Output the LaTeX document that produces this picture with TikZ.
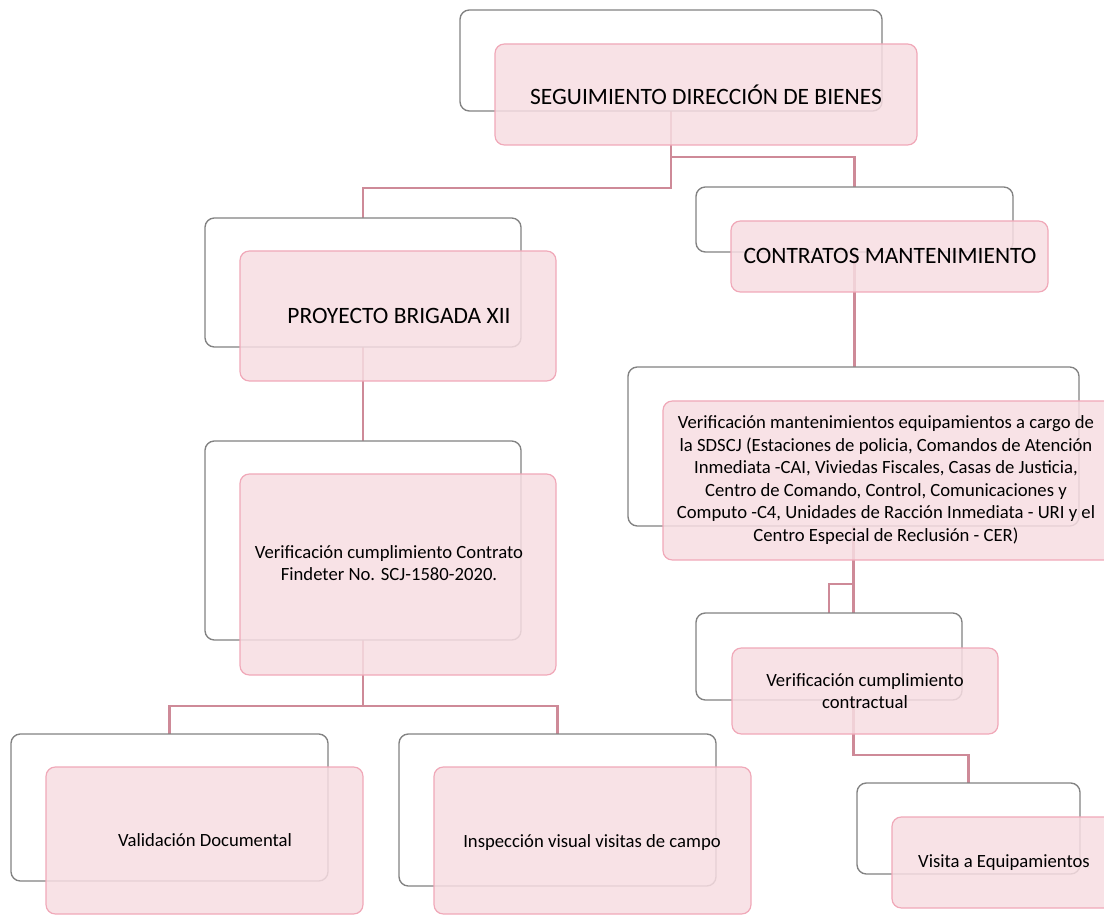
\documentclass[tikz,border=0pt]{standalone}
\usepackage{fontspec}
\setmainfont{Carlito}
\usetikzlibrary{fit}
\definecolor{pinkfill}{RGB}{247,221,226}
\definecolor{pinkline}{RGB}{240,168,184}
\definecolor{connc}{RGB}{206,138,152}
\definecolor{grayline}{RGB}{130,130,130}
\tikzset{
  backbox/.style={draw=grayline, line width=1pt, fill=white, rounded corners=7pt, inner sep=0pt},
  frontbox/.style={draw=pinkline, line width=0.9pt, fill=pinkfill, fill opacity=0.85, rounded corners=7pt, inner sep=0pt},
  conn/.style={draw=connc, line width=2.2pt},
  bigtxt/.style={font=\fontsize{17.6}{21}\selectfont, align=center, inner sep=0pt},
  smalltxt/.style={font=\fontsize{14}{16.9}\selectfont, align=center, inner sep=0pt}
}
\begin{document}
\begin{tikzpicture}[x=0.75pt,y=-0.75pt]
\useasboundingbox (0,0) rectangle (1104,916);
\begin{scope}
\clip (0,0) rectangle (1104,916);
% junctions
\coordinate (j0) at (671,157);
\coordinate (j1) at (671,188);
\coordinate (j2) at (363,706);
\coordinate (j3) at (853.5,584);
\coordinate (j4) at (853.5,755);
% connectors
\draw[conn] (671,111) -- (j1) -| (363,218);
\draw[conn] (j0) -| (854.5,187);
\draw[conn] (363,347) -- (363,441);
\draw[conn] (854.5,252) -- (854.5,367);
\draw[conn] (363,640) -- (j2) -| (169.5,734);
\draw[conn] (j2) -| (557.5,734);
\draw[conn] (853.5,526) -- (j3) -| (829,613);
\draw[conn] (j3) -- (j4) -| (968.5,783);
% back boxes
\node[backbox, fit={(460,10) (882,111)}] (w1) {};
\node[backbox, fit={(205,218) (521,347)}] (w2) {};
\node[backbox, fit={(696,187) (1013,252)}] (w3) {};
\node[backbox, fit={(205,441) (521,640)}] (w4) {};
\node[backbox, fit={(628,367) (1079,526)}] (w5) {};
\node[backbox, fit={(696,613) (962,700)}] (w6) {};
\node[backbox, fit={(857,783) (1080,874)}] (w7) {};
\node[backbox, fit={(11,734) (328,881)}] (w8) {};
\node[backbox, fit={(399,734) (716,886)}] (w9) {};
% front boxes
\node[frontbox, fit={(495,44) (917,145)}] (p1) {};
\node[frontbox, fit={(240,251) (556,381)}] (p2) {};
\node[frontbox, fit={(731,221) (1048,292)}] (p3) {};
\node[frontbox, fit={(240,474) (556,675)}] (p4) {};
\node[frontbox, fit={(663,401) (1114,560)}] (p5) {};
\node[frontbox, fit={(732,648) (998,734)}] (p6) {};
\node[frontbox, fit={(892,817) (1115,908)}] (p7) {};
\node[frontbox, fit={(46,767) (363,914)}] (p8) {};
\node[frontbox, fit={(434,767) (751,914)}] (p9) {};
\end{scope}
% texts
\node[bigtxt] (t1) at (706,95) {SEGUIMIENTO DIRECCIÓN DE BIENES};
\node[bigtxt] (t2) at (399,316) {PROYECTO BRIGADA XII};
\node[bigtxt] (t3) at (890,256) {CONTRATOS MANTENIMIENTO};
\node[smalltxt] (t4) at (389,563) {Verificación cumplimiento Contrato\\Findeter No. SCJ-1580-2020.};
\node[smalltxt] (t5) at (886,480) {Verificación mantenimientos equipamientos a cargo de\\la SDSCJ (Estaciones de policia, Comandos de Atención\\Inmediata -CAI, Viviedas Fiscales, Casas de Justicia,\\Centro de Comando, Control, Comunicaciones y\\Computo -C4, Unidades de Racción Inmediata - URI y el\\Centro Especial de Reclusión - CER)};
\node[smalltxt] (t6) at (865,691) {Verificación cumplimiento\\contractual};
\node[smalltxt] (t7) at (1004,863) {Visita a Equipamientos};
\node[smalltxt] (t8) at (205,840) {Validación Documental};
\node[smalltxt] (t9) at (592,843) {Inspección visual visitas de campo};
\end{tikzpicture}
\end{document}
